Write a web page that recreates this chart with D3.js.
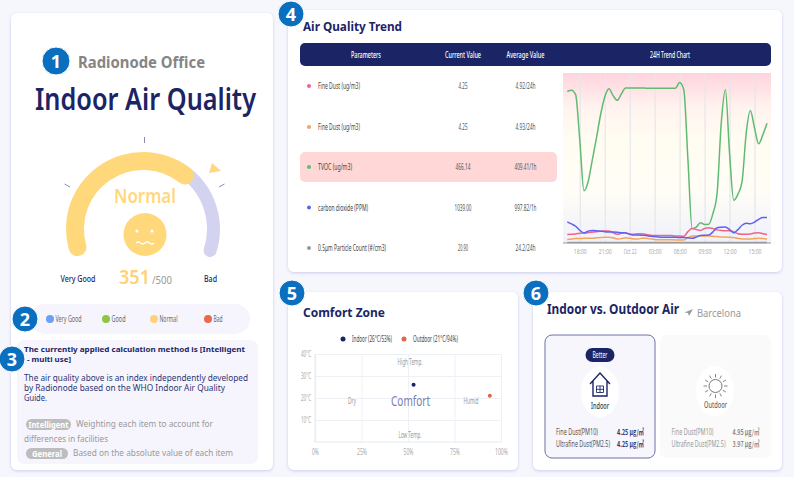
<!DOCTYPE html>
<html><head><meta charset="utf-8">
<style>html,body{margin:0;padding:0;background:#f6f6fd;overflow:hidden}svg{display:block}text{font-family:"Noto Sans","Open Sans",sans-serif}</style>
<script src="https://cdn.jsdelivr.net/npm/d3@7"></script>
</head><body><svg id="c" width="794" height="477"></svg>
<script>
const gaugeScore = 351, gaugeMax = 500;
const statusLabels = ["Very Good","Good","Normal","Bad"];
const statusColors = ["#6aa1f5","#8dc63f","#ffd27a","#e9694e"];
const parameters = ["Fine Dust (ug/m3)","Fine Dust (ug/m3)","TVOC (ug/m3)","carbon dioxide (PPM)","0.5\u03bcm Particle Count (#/cm3)"];
const currentValues = ["4.25","4.25","466.14","1039.00","20.90"];
const averageValues = ["4.92/24h","4.93/24h","409.41/1h","997.82/1h","24.2/24h"];
const seriesColors = ["#f0648a","#f4a45c","#5fba72","#5f62f0","#9a9a9a"];
const sampleHours = [16.5,17,17.5,18,18.5,19,19.5,20,20.5,21,21.5,22,22.5,23,23.5,24,24.5,25,25.5,26,26.5,27,27.5,28,28.5,29,29.5,30,30.5,31,31.5,32,32.5,33,33.5,34,34.5,35,35.5,36,36.5,37,37.5,38,38.5,39,39.5,40,40.5];
const fineDustA = [33,34,35,38,39,40,42,44,46,47,47,40,34,38,40,34,34,36,36,33,30,29,29,29,29,29,27,27,26,44,56,52,49,56,59,56,51,49,48,48,44,36,34,34,35,39,40,36,33];
const fineDustB = [14,16,17,17,18,18,18,20,21,22,22,20,16,17,20,18,16,16,18,18,16,14,13,13,13,13,12,12,12,20,27,27,27,27,27,26,25,23,23,22,21,18,16,16,16,17,18,17,16];
const tvoc = [588,593,576,400,203,238,322,407,498,567,599,572,554,579,602,602,602,602,602,601,601,601,601,601,601,601,601,623,595,322,56,62,79,72,73,114,192,465,595,348,166,189,238,426,514,446,385,420,465];
const co2 = [82,74,65,49,39,46,49,48,46,44,43,43,42,40,39,34,31,31,30,29,26,25,23,22,22,22,22,21,21,20,18,23,29,30,31,43,59,61,62,52,39,52,69,77,75,81,92,99,99];
const particles = [2,2,2,2,2,2,2,2,2,2,2,2,2,2,2,2,2,2,2,2,2,2,2,2,2,2,2,2,2,2,2,2,2,2,2,2,2,2,2,2,2,2,2,2,2,2,2,2,2];
const trendTickHours = [18,21,24,27,30,33,36,39];
const trendTickLabels = ["18:00","21:00","Oct 22","03:00","06:00","09:00","12:00","15:00"];
const comfortNames = ["Indoor (26\u00b0C/53%)","Outdoor (21\u00b0C/94%)"];
const comfortHumidity = [53,94];
const comfortTemp = [26,21];
const comfortColors = ["#1b2565","#e0654a"];
const humidityTicks = [0,25,50,75,100];
const tempTicks = [10,20,30,40];
const airRows = ["Fine Dust(PM10)","Ultrafine Dust(PM2.5)"];
const indoorAir = ["4.25 \u03bcg/\u33a5","4.25 \u03bcg/\u33a5"];
const outdoorAir = ["4.95 \u03bcg/\u33a5","3.97 \u03bcg/\u33a5"];

const NAVY="#1b2565";
const svg=d3.select("#c");
const defs=svg.append("defs");
const sh=defs.append("filter").attr("id","sh").attr("x","-5%").attr("y","-5%").attr("width","110%").attr("height","110%");
sh.append("feDropShadow").attr("dx",0).attr("dy",1).attr("stdDeviation",1.6).attr("flood-color","#7a7ad0").attr("flood-opacity",.35);
const gr=defs.append("linearGradient").attr("id","bgG").attr("x1",0).attr("x2",0).attr("y1",0).attr("y2",1);
[[0,"#ffd3de"],[.2,"#fff3ef"],[.4,"#fffdf2"],[.7,"#fffdf6"],[1,"#eff1fb"]].forEach(s=>gr.append("stop").attr("offset",s[0]).attr("stop-color",s[1]));

function T(x,y,s,o={}){const e=svg.append("text").attr("x",x).attr("y",y).text(s)
 .attr("font-size",o.size||8).attr("fill",o.fill||"#444").attr("text-anchor",o.anchor||"start").attr("font-weight",o.weight||400);
 if(o.family)e.style("font-family",o.family);
 if(o.fit){const n=e.node().getComputedTextLength();e.attr("x",0).attr("y",0).attr("transform",`translate(${x},${y}) scale(${o.fit/n},1)`);}
 else if(o.w)e.attr("textLength",o.w).attr("lengthAdjust","spacingAndGlyphs");
 return e;}
function R(x0,y0,x1,y1,r,fill,o={}){const e=svg.append("rect").attr("x",x0).attr("y",y0).attr("width",x1-x0).attr("height",y1-y0).attr("rx",r).attr("fill",fill);
 if(o.stroke)e.attr("stroke",o.stroke).attr("stroke-width",o.sw||1);if(o.shadow)e.attr("filter","url(#sh)");return e;}

// cards
R(11,13,273,470,6,"#fff",{shadow:1});
R(288,10,782,272,6,"#fff",{shadow:1});
R(288,292,518,470,6,"#fff",{shadow:1});
R(533,292,782,470,6,"#fff",{shadow:1});

// panel 1
T(78,68,"Radionode Office",{size:15.5,weight:700,fill:"#858585",w:127});
T(35,110,"Indoor Air Quality",{size:31,weight:600,fill:NAVY,w:221});
const gx=143,gy=229;
const ang=d3.scaleLinear().domain([0,gaugeMax]).range([-113*Math.PI/180,113*Math.PI/180]);
const gaugeG=svg.append("g").attr("transform",`translate(${gx},${gy})`);
gaugeG.append("path").attr("fill","#d3d3ef").attr("d",d3.arc().innerRadius(64).outerRadius(77).cornerRadius(6.5).startAngle(ang(300)).endAngle(ang(gaugeMax))());
gaugeG.append("path").attr("fill","#ffd87c").attr("d",d3.arc().innerRadius(59).outerRadius(77).cornerRadius(9).startAngle(ang(0)).endAngle(ang(gaugeScore))());
[[144.5,137,144.5,143],[64.5,184,70,187],[219,187,224.5,184]].forEach(l=>svg.append("line").attr("x1",l[0]).attr("y1",l[1]).attr("x2",l[2]).attr("y2",l[3]).attr("stroke","#8a8eb5").attr("stroke-width",1));
svg.append("path").attr("d","M212,163L209,173L221,171Z").attr("fill","#ffd87c");
T(145,203,"Normal",{size:19,weight:600,fill:"#ffd87c",anchor:"middle",w:62});
svg.append("circle").attr("cx",145).attr("cy",234.5).attr("r",21.5).attr("fill","#ffd87c");
[137,152].forEach(x=>svg.append("circle").attr("cx",x).attr("cy",231).attr("r",1.6).attr("fill","#fff"));
svg.append("path").attr("d","M136,243q2.2,-2 4.5,0t4.5,0t4.5,0t4.5,0").attr("fill","none").attr("stroke","#fff").attr("stroke-width",1.2);
T(119,284,String(gaugeScore),{size:20,weight:600,fill:"#ffd27a",w:31});
T(152,284,"/"+gaugeMax,{size:10.5,fill:"#999",w:20});
T(78,282,"Very Good",{size:8.5,weight:500,fill:NAVY,anchor:"middle",w:35});
T(210.5,282,"Bad",{size:8.5,weight:500,fill:NAVY,anchor:"middle",w:13});

// legend 2
R(30,304,250,334,15,"#f6f5fd");
const legendX=[50,106,154,208], legendW=[26,14,18,9];
statusLabels.forEach((s,i)=>{
 svg.append("circle").attr("cx",legendX[i]).attr("cy",319).attr("r",4).attr("fill",statusColors[i]);
 T(legendX[i]+5.5,322,s,{size:8.5,fill:"#666",w:legendW[i]});
});

// panel 3
R(17,340,258,464,7,"#f6f5fd");
T(24,352,"The currently applied calculation method is [Intelligent",{size:7.6,weight:700,fill:NAVY,w:221});
T(27,362.4,"- multi use]",{size:7.6,weight:700,fill:NAVY,w:44});
["The air quality above is an index independently developed","by Radionode based on the WHO Indoor Air Quality","Guide."].forEach((s,i)=>T(24,381+i*10,s,{size:8,fill:"#2c3672",w:[224,201,23][i]}));
R(26,419,71,430,5.5,"#bdbdbd");T(48.5,427.5,"Intelligent",{size:8,weight:700,fill:"#fff",anchor:"middle",w:40});
T(76,427,"Weighting each item to account for",{size:8,fill:"#999",w:137});
T(24,442,"differences in facilities",{size:8,fill:"#999",w:84});
R(26,448,68,459,5.5,"#bdbdbd");T(47,456.5,"General",{size:8,weight:700,fill:"#fff",anchor:"middle",w:30});
T(73,456,"Based on the absolute value of each item",{size:8,fill:"#999",w:160});

// panel 4
T(303,31,"Air Quality Trend",{size:13,weight:700,fill:NAVY,w:99});
R(300,43,771,66,5,NAVY);
[["Parameters",366,30],["Current Value",463,36],["Average Value",525.5,38],["24H Trend Chart",670,40]].forEach(h=>T(h[1],57.5,h[0],{size:9,weight:500,fill:"#fff",anchor:"middle",w:h[2]}));
R(300,152,557,182,5,"#ffd7d6");
const rowY=[86,127,167,207.5,248];
const labelW=[42,42,34,50,68], curW=[9,9,15,17,10], avgW=[20,20,22,22,20];
parameters.forEach((p,i)=>{
 svg.append("circle").attr("cx",309).attr("cy",rowY[i]).attr("r",2).attr("fill",seriesColors[i]);
 T(318,rowY[i]+3,p,{size:8.8,fill:"#444",w:labelW[i]});
 T(463,rowY[i]+3,currentValues[i],{size:8.8,fill:"#555",anchor:"middle",w:curW[i]});
 T(525.5,rowY[i]+3,averageValues[i],{size:8.8,fill:"#555",anchor:"middle",w:avgW[i]});
});
// trend chart
R(563,73,771,243,0,"url(#bgG)");
const tx=d3.scaleLinear().domain([16.5,40.5]).range([567.3,767]);
const ty=d3.scaleLinear().domain([0,660]).range([243,73]);
const tickIdx=d=>trendTickLabels[trendTickHours.indexOf(d)];
const xAxis=svg.append("g").attr("transform","translate(0,243)").call(d3.axisBottom(tx).tickValues(trendTickHours).tickFormat(tickIdx).tickSize(-170).tickPadding(6));
xAxis.select(".domain").remove();
xAxis.selectAll("line").attr("stroke","#e6e6ea").attr("stroke-width",1.2);
xAxis.selectAll("text").attr("fill","#aaa").attr("font-size",7.5).attr("font-family",'"Noto Sans"').attr("textLength",13).attr("lengthAdjust","spacingAndGlyphs");
const line=d3.line().x((d,i)=>tx(sampleHours[i])).y(d=>ty(d)).curve(d3.curveMonotoneX);
svg.append("line").attr("x1",563).attr("x2",771).attr("y1",243).attr("y2",243).attr("stroke","#9a9a9a").attr("stroke-width",1);
[[particles,4],[tvoc,2],[fineDustB,1],[fineDustA,0],[co2,3]].forEach(s=>svg.append("path").attr("d",line(s[0])).attr("fill","none").attr("stroke",seriesColors[s[1]]).attr("stroke-width",1.5));

// panel 5
T(303,317,"Comfort Zone",{size:13,weight:700,fill:NAVY,w:82});
const legDot=[343,404], legTxt=[352,413], legW=[40,45];
comfortNames.forEach((s,i)=>{
 svg.append("circle").attr("cx",legDot[i]).attr("cy",339).attr("r",2.5).attr("fill",comfortColors[i]);
 T(legTxt[i],342,s,{size:8.5,fill:"#444",fit:legW[i]});
});
const cx=d3.scaleLinear().domain([0,100]).range([315,501]);
const cy=d3.scaleLinear().domain([0,40]).range([442,354]);
const ax=svg.append("g").attr("transform","translate(0,442)").call(d3.axisBottom(cx).tickValues(humidityTicks).tickFormat(d=>d+"%").tickSize(-88).tickPadding(7));
const ay=svg.append("g").attr("transform","translate(315,0)").call(d3.axisLeft(cy).tickValues(tempTicks).tickFormat(d=>d+"\u00b0C").tickSize(-186).tickPadding(4));
[ax,ay].forEach(a=>{a.selectAll("line").attr("stroke","#edf1f6");a.select(".domain").remove();
 a.selectAll("text").attr("fill","#aaa").attr("font-size",8).attr("font-family",'"Noto Sans"').attr("lengthAdjust","spacingAndGlyphs")
  .attr("textLength",d=>d===100?13:d===0?7:10);});
svg.append("path").attr("d","M315,354V442H501").attr("fill","none").attr("stroke","#e4eaf1");
[["High Temp.",410,365,25],["Low Temp.",410,438,23],["Dry",352,404,8],["Humid",471,404,15]].forEach(l=>T(l[1],l[2],l[0],{size:8.5,fill:"#999",anchor:"middle",w:l[3]}));
T(410.5,406,"Comfort",{size:15,fill:"#7b80b5",anchor:"middle",w:39});
comfortHumidity.forEach((h,i)=>svg.append("circle").attr("cx",cx(h)).attr("cy",cy(comfortTemp[i])).attr("r",2).attr("fill",comfortColors[i]));

// panel 6
T(547,314,"Indoor vs. Outdoor Air",{size:13.5,weight:700,fill:NAVY,w:132});
svg.append("path").attr("d","M693,309L689,316L688,313L684.5,312.5Z").attr("fill","#999");
T(697,317,"Barcelona",{size:10,fill:"#999",w:44});
R(545,335,655,458,7,"#f7f6fd",{stroke:"#6a72a4"});
R(660,335,771,458,7,"#fafafa");
R(585.5,348,614.5,362,7,NAVY);T(600,358,"Better",{size:8.5,fill:"#fff",anchor:"middle",w:15});
svg.append("ellipse").attr("cx",600).attr("cy",392).attr("rx",19).attr("ry",25).attr("fill","#fff");
svg.append("ellipse").attr("cx",715).attr("cy",391).attr("rx",19).attr("ry",25).attr("fill","#fff");
const house=svg.append("g").attr("fill","none").attr("stroke",NAVY).attr("stroke-width",1.4);
house.append("path").attr("d","M590,384L600,373L610,384M593,381V396H607V381");
house.append("path").attr("d","M596.5,386h7v6.5h-7zM600,386v6.5M596.5,389.3h7").attr("stroke-width",.9);
T(600,409,"Indoor",{size:9,weight:500,fill:"#333",anchor:"middle",w:18});
const sun=svg.append("g").attr("transform","translate(715.5,386)");
sun.append("circle").attr("r",6.5).attr("fill","none").attr("stroke","#777").attr("stroke-width",1);
d3.range(12).forEach(i=>{const a=i*Math.PI/6;sun.append("line").attr("x1",8.5*Math.cos(a)).attr("y1",8.5*Math.sin(a)).attr("x2",12*Math.cos(a)).attr("y2",12*Math.sin(a)).attr("stroke","#777").attr("stroke-width",.9);});
T(715.5,408,"Outdoor",{size:9,weight:500,fill:"#666",anchor:"middle",w:23});
const KR='"Noto Sans CJK KR","Noto Sans",sans-serif';
airRows.forEach((s,i)=>{
 const y=[435,447][i],w=[42,54][i];
 T(556,y,s,{size:8.2,fill:"#555",fit:w});
 T(617,y,indoorAir[i],{size:8,weight:600,fill:"#2c3672",fit:27,family:KR});
 T(671.5,y,s,{size:8.2,fill:"#999",fit:w});
 T(732.5,y,outdoorAir[i],{size:8,weight:500,fill:"#777",fit:27,family:KR});
});

// badges
[["1",56,61,14],["2",25,319,13],["3",12,359,13],["4",291,14,13],["5",292,293,13],["6",536,293,13]].forEach(b=>{
 svg.append("circle").attr("cx",b[1]).attr("cy",b[2]).attr("r",b[3]).attr("fill","#0b6fbf").attr("stroke","#fff").attr("stroke-width",1);
 T(b[1],b[2]+6.5,b[0],{size:18,weight:700,fill:"#fff",anchor:"middle"});
});
</script></body></html>
